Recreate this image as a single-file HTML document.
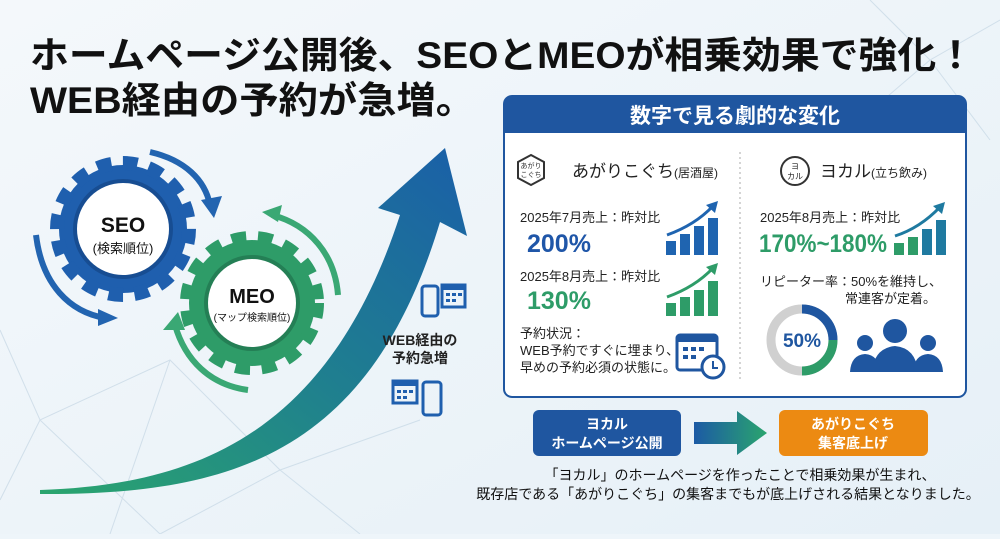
<!DOCTYPE html>
<html><head><meta charset="utf-8"><style>
body{margin:0;width:1000px;height:534px;overflow:hidden;background:#eef5fa;}
svg text{font-family:"Liberation Sans","Noto Sans CJK JP",sans-serif;}
</style></head><body>
<svg width="1000" height="534" viewBox="0 0 1000 534" xmlns="http://www.w3.org/2000/svg">
<defs>
<linearGradient id="bg" x1="0" y1="0" x2="1" y2="1"><stop offset="0" stop-color="#f4f8fb"/><stop offset="1" stop-color="#e6f0f7"/></linearGradient>
<linearGradient id="arr" x1="0" y1="1" x2="1" y2="0"><stop offset="0" stop-color="#2aa56e"/><stop offset="0.5" stop-color="#1f7f8f"/><stop offset="1" stop-color="#1a5fa8"/></linearGradient>
<linearGradient id="ba" x1="0" y1="0" x2="1" y2="0"><stop offset="0" stop-color="#1c5aa5"/><stop offset="1" stop-color="#2aa56e"/></linearGradient>
</defs>
<rect width="1000" height="534" fill="url(#bg)"/>
<g stroke="#c9d9e6" stroke-width="1" fill="none" opacity="0.8">
<path d="M0 330 L40 420 L170 360 L280 470 L160 534 M40 420 L0 500 M40 420 L160 534 M170 360 L110 534 M280 470 L360 534 M280 470 L420 420 M870 0 L930 60 L1000 20 M930 60 L990 140 M930 60 L860 120"/>
</g>
<text x="30" y="68" font-size="37" font-weight="bold" fill="#111" textLength="945" lengthAdjust="spacingAndGlyphs">ホームページ公開後、SEOとMEOが相乗効果で強化！</text>
<text x="30" y="113" font-size="37" font-weight="bold" fill="#111" textLength="445" lengthAdjust="spacingAndGlyphs">WEB経由の予約が急増。</text>

<!-- big arrow -->
<path d="M40 490 C200 485 330 430 400 215 L378 208 L445 148 L467 236 L440 222 C370 455 230 495 40 494 Z" fill="url(#arr)"/>

<!-- SEO gear -->
<g transform="translate(123,229)">
<circle r="64" fill="#1f5fae"/>
<circle r="66" fill="none" stroke="#1f5fae" stroke-width="14" stroke-dasharray="14.5 11.4"/>
<circle r="50" fill="#174d92"/>
<circle r="46" fill="#fff"/>
<text y="3" text-anchor="middle" font-size="21" font-weight="bold" fill="#111">SEO</text>
<text y="24" text-anchor="middle" font-size="13" fill="#111">(検索順位)</text>
</g>
<path d="M150 152 C185 160 205 180 210 205" fill="none" stroke="#2264b0" stroke-width="6"/>
<path d="M201 200 L214 218 L222 196 Z" fill="#2264b0"/>
<path d="M36 235 C42 285 70 312 105 318" fill="none" stroke="#2264b0" stroke-width="6"/>
<path d="M98 309 L118 318 L98 326 Z" fill="#2264b0"/>
<!-- MEO gear -->
<g transform="translate(252,303)">
<circle r="63" fill="#2e9c68"/>
<circle r="65" fill="none" stroke="#2e9c68" stroke-width="14" stroke-dasharray="14.5 11.5"/>
<circle r="48" fill="#247f55"/>
<circle r="44" fill="#fff"/>
<text y="0" text-anchor="middle" font-size="20" font-weight="bold" fill="#111">MEO</text>
<text y="18" text-anchor="middle" font-size="10" fill="#111">(マップ検索順位)</text>
</g>
<path d="M272 215 C310 225 335 255 338 295" fill="none" stroke="#3aa874" stroke-width="6"/>
<path d="M262 212 L282 205 L278 222 Z" fill="#3aa874"/>
<path d="M175 325 C185 360 210 385 248 390" fill="none" stroke="#3aa874" stroke-width="6"/>
<path d="M163 330 L178 312 L185 330 Z" fill="#3aa874"/>

<!-- device icons -->
<g fill="none" stroke="#1f5fae" stroke-width="3">
<rect x="422" y="286" width="16" height="30" rx="3"/>
<rect x="442" y="285" width="23" height="22"/>
<rect x="393" y="381" width="24" height="22"/>
<rect x="423" y="382" width="18" height="33" rx="3"/>
</g>
<rect x="442" y="285" width="23" height="5" fill="#1f5fae"/>
<rect x="393" y="381" width="24" height="5" fill="#1f5fae"/>
<g fill="#1f5fae"><rect x="446" y="293" width="4" height="3"/><rect x="452" y="293" width="4" height="3"/><rect x="458" y="293" width="4" height="3"/><rect x="446" y="299" width="4" height="3"/><rect x="452" y="299" width="4" height="3"/>
<rect x="397" y="390" width="4" height="3"/><rect x="403" y="390" width="4" height="3"/><rect x="409" y="390" width="4" height="3"/><rect x="397" y="396" width="4" height="3"/><rect x="403" y="396" width="4" height="3"/></g>
<text x="420" y="345" text-anchor="middle" font-size="14" font-weight="bold" fill="#222">WEB経由の</text>
<text x="420" y="363" text-anchor="middle" font-size="14" font-weight="bold" fill="#222">予約急増</text>

<!-- panel -->
<rect x="504" y="96" width="462" height="301" rx="8" fill="#fff" stroke="#1f56a0" stroke-width="2"/>
<path d="M504 104 Q504 96 512 96 L958 96 Q966 96 966 104 L966 133 L504 133 Z" fill="#1f56a0"/>
<text x="735" y="123" text-anchor="middle" font-size="21" font-weight="bold" fill="#fff">数字で見る劇的な変化</text>
<line x1="740" y1="152" x2="740" y2="380" stroke="#aaa" stroke-dasharray="2 3"/>
<polygon points="531,155 544,162 544,178 531,185 518,178 518,162" fill="#fff" stroke="#333" stroke-width="2"/>
<text x="531" y="168" text-anchor="middle" font-size="7" fill="#333">あがり</text>
<text x="531" y="177" text-anchor="middle" font-size="7" fill="#333">こぐち</text>
<text x="572" y="177" font-size="17" fill="#222">あがりこぐち<tspan font-size="12">(居酒屋)</tspan></text>
<circle cx="795" cy="171" r="14" fill="#fff" stroke="#333" stroke-width="2"/>
<text x="795" y="169" text-anchor="middle" font-size="8" fill="#222">ヨ</text>
<text x="795" y="179" text-anchor="middle" font-size="8" fill="#222">カル</text>
<text x="820" y="177" font-size="17" fill="#222">ヨカル<tspan font-size="12">(立ち飲み)</tspan></text>

<text x="520" y="222" font-size="13" fill="#222">2025年7月売上：昨対比</text>
<text x="527" y="252" font-size="25" font-weight="bold" fill="#1f56a8">200%</text>
<g fill="#1f64b0"><rect x="666" y="241" width="10" height="14"/><rect x="680" y="234" width="10" height="21"/><rect x="694" y="226" width="10" height="29"/><rect x="708" y="218" width="10" height="37"/></g>
<path d="M667 235 Q695 225 713 206" fill="none" stroke="#1f64b0" stroke-width="3"/><path d="M706 205 L718 201 L715 213Z" fill="#1f64b0"/>

<text x="520" y="281" font-size="13" fill="#222">2025年8月売上：昨対比</text>
<text x="527" y="309" font-size="25" font-weight="bold" fill="#2e9c68">130%</text>
<g fill="#2e9c68"><rect x="666" y="303" width="10" height="13"/><rect x="680" y="297" width="10" height="19"/><rect x="694" y="290" width="10" height="26"/><rect x="708" y="281" width="10" height="35"/></g>
<path d="M667 297 Q695 287 713 268" fill="none" stroke="#2e9c68" stroke-width="3"/><path d="M706 267 L718 263 L715 275Z" fill="#2e9c68"/>

<text x="520" y="338" font-size="13" fill="#222">予約状況：</text>
<text x="520" y="355" font-size="13" fill="#222">WEB予約ですぐに埋まり、</text>
<text x="520" y="372" font-size="13" fill="#222">早めの予約必須の状態に。</text>
<rect x="677" y="335" width="40" height="35" rx="3" fill="none" stroke="#1f56a0" stroke-width="3"/>
<rect x="677" y="335" width="40" height="7" fill="#1f56a0"/>
<g fill="#1f56a0"><rect x="683" y="347" width="5" height="4"/><rect x="691" y="347" width="5" height="4"/><rect x="699" y="347" width="5" height="4"/><rect x="683" y="355" width="5" height="4"/><rect x="691" y="355" width="5" height="4"/></g>
<circle cx="713" cy="367" r="11" fill="#fff" stroke="#1f56a0" stroke-width="3"/>
<path d="M713 361 L713 368 L718 368" fill="none" stroke="#1f56a0" stroke-width="2"/>

<text x="760" y="222" font-size="13" fill="#222">2025年8月売上：昨対比</text>
<text x="759" y="252" font-size="25" font-weight="bold" fill="#2e9c68" textLength="128" lengthAdjust="spacingAndGlyphs">170%~180%</text>
<g fill="#2e9c68"><rect x="894" y="243" width="10" height="12"/><rect x="908" y="237" width="10" height="18"/></g>
<g fill="#1f7aa0"><rect x="922" y="229" width="10" height="26"/><rect x="936" y="220" width="10" height="35"/></g>
<path d="M895 236 Q920 228 940 207" fill="none" stroke="#1f7aa0" stroke-width="3"/><path d="M933 206 L945 202 L942 214Z" fill="#1f7aa0"/>

<text x="760" y="286" font-size="13" fill="#222">リピーター率：50%を維持し、</text>
<text x="845" y="303" font-size="13" fill="#222">常連客が定着。</text>
<circle cx="802" cy="340" r="31" fill="none" stroke="#d0d0d0" stroke-width="9"/>
<path d="M802 309 A31 31 0 0 1 833 340" fill="none" stroke="#1f56a0" stroke-width="9"/>
<path d="M833 340 A31 31 0 0 1 802 371" fill="none" stroke="#2e9c68" stroke-width="9"/>
<text x="802" y="347" text-anchor="middle" font-size="19" font-weight="bold" fill="#1f56a0">50%</text>
<g fill="#1f56a0">
<circle cx="895" cy="331" r="12"/><path d="M872 372 Q874 348 895 346 Q916 348 918 372Z"/>
<circle cx="865" cy="343" r="8"/><path d="M850 372 Q851 355 865 354 Q879 355 880 372Z"/>
<circle cx="928" cy="343" r="8"/><path d="M913 372 Q914 355 928 354 Q942 355 943 372Z"/>
</g>

<!-- bottom flow -->
<rect x="533" y="410" width="148" height="46" rx="6" fill="#1f56a0"/>
<text x="607" y="429" text-anchor="middle" font-size="14" font-weight="bold" fill="#fff">ヨカル</text>
<text x="607" y="448" text-anchor="middle" font-size="14" font-weight="bold" fill="#fff">ホームページ公開</text>
<path d="M694 422 L737 422 L737 411 L767 433 L737 455 L737 444 L694 444 Z" fill="url(#ba)"/>
<rect x="779" y="410" width="149" height="46" rx="6" fill="#ec8a12"/>
<text x="853" y="429" text-anchor="middle" font-size="14" font-weight="bold" fill="#fff">あがりこぐち</text>
<text x="853" y="448" text-anchor="middle" font-size="14" font-weight="bold" fill="#fff">集客底上げ</text>
<text x="740" y="480" text-anchor="middle" font-size="14" fill="#111">「ヨカル」のホームページを作ったことで相乗効果が生まれ、</text>
<text x="728" y="499" text-anchor="middle" font-size="14" fill="#111">既存店である「あがりこぐち」の集客までもが底上げされる結果となりました。</text>
</svg>
</body></html>
